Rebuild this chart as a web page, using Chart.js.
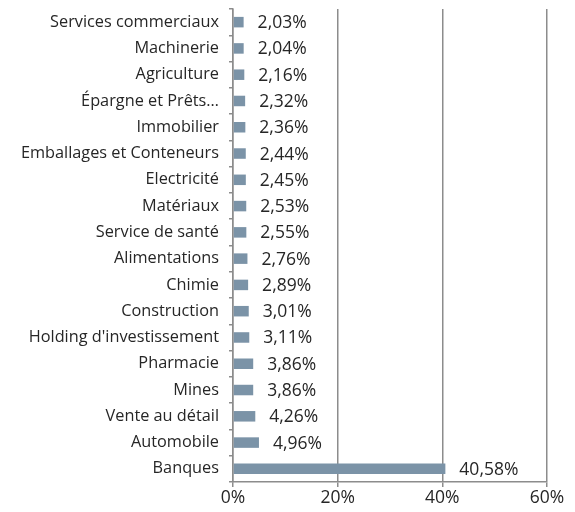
<!DOCTYPE html>
<html>
<head>
<meta charset="utf-8">
<script src="https://cdn.jsdelivr.net/npm/chart.js@4/dist/chart.umd.min.js"></script>
<style>
  html, body { margin: 0; padding: 0; background: #fff; }
  #wrap { width: 575px; height: 512px; }
</style>
</head>
<body>
<div id="wrap"><canvas id="sectorChart"></canvas></div>
<script>
// Sector weights (top to bottom)
const sectors = [
    'Services commerciaux', 'Machinerie', 'Agriculture', 'Épargne et Prêts…',
    'Immobilier', 'Emballages et Conteneurs', 'Electricité', 'Matériaux',
    'Service de santé', 'Alimentations', 'Chimie', 'Construction',
    "Holding d'investissement", 'Pharmacie', 'Mines', 'Vente au détail',
    'Automobile', 'Banques'
];
const weights = [2.03, 2.04, 2.16, 2.32, 2.36, 2.44, 2.45, 2.53, 2.55, 2.76, 2.89, 3.01, 3.11, 3.86, 3.86, 4.26, 4.96, 40.58];
const xTicks = [0, 20, 40, 60];

const fontFamily = "'Open Sans', 'Noto Sans', sans-serif";
const gridColor = '#8c8c8c';
const textColor = '#262626';

// value labels to the right of each bar
const valueLabels = {
    id: 'valueLabels',
    afterDatasetsDraw(chart) {
        const ctx = chart.ctx;
        const meta = chart.getDatasetMeta(0);
        ctx.save();
        ctx.font = '17.5px ' + fontFamily;
        ctx.fillStyle = textColor;
        ctx.textAlign = 'left';
        ctx.textBaseline = 'middle';
        meta.data.forEach((bar, i) => {
            const txt = weights[i].toFixed(2).replace('.', ',') + '%';
            ctx.fillText(txt, bar.x + 14, bar.y + 1);
        });
        ctx.restore();
    }
};

new Chart(document.getElementById('sectorChart'), {
    type: 'bar',
    data: {
        labels: sectors,
        datasets: [{
            data: weights,
            backgroundColor: '#7b93a7',
            barPercentage: 0.4,
            categoryPercentage: 1.0
        }]
    },
    options: {
        indexAxis: 'y',
        responsive: true,
        maintainAspectRatio: false,
        animation: false,
        layout: { padding: { top: 9, right: 28, left: 0, bottom: 0 } },
        plugins: {
            legend: { display: false },
            tooltip: { enabled: false }
        },
        scales: {
            x: {
                min: 0,
                max: 60,
                afterBuildTicks(scale) {
                    scale.ticks = xTicks.map(v => ({ value: v }));
                },
                afterFit(scale) { scale.height = 30; },
                border: { color: gridColor, width: 1.5 },
                grid: { color: gridColor, lineWidth: 1.5, tickLength: 5 },
                ticks: {
                    color: textColor,
                    font: { family: fontFamily, size: 17.5 },
                    padding: 1,
                    maxRotation: 0,
                    callback: v => v + '%'
                }
            },
            y: {
                afterFit(scale) {
                    scale.width = 233;
                    scale.paddingTop = 0;
                    scale.paddingBottom = 0;
                },
                border: { color: gridColor, width: 1.5 },
                grid: { display: true, drawOnChartArea: false, offset: true, color: gridColor, lineWidth: 1.5, tickLength: 4 },
                ticks: {
                    color: textColor,
                    font: { family: fontFamily, size: 16.3 },
                    padding: 10,
                    autoSkip: false
                }
            }
        }
    },
    plugins: [valueLabels]
});
</script>
</body>
</html>
